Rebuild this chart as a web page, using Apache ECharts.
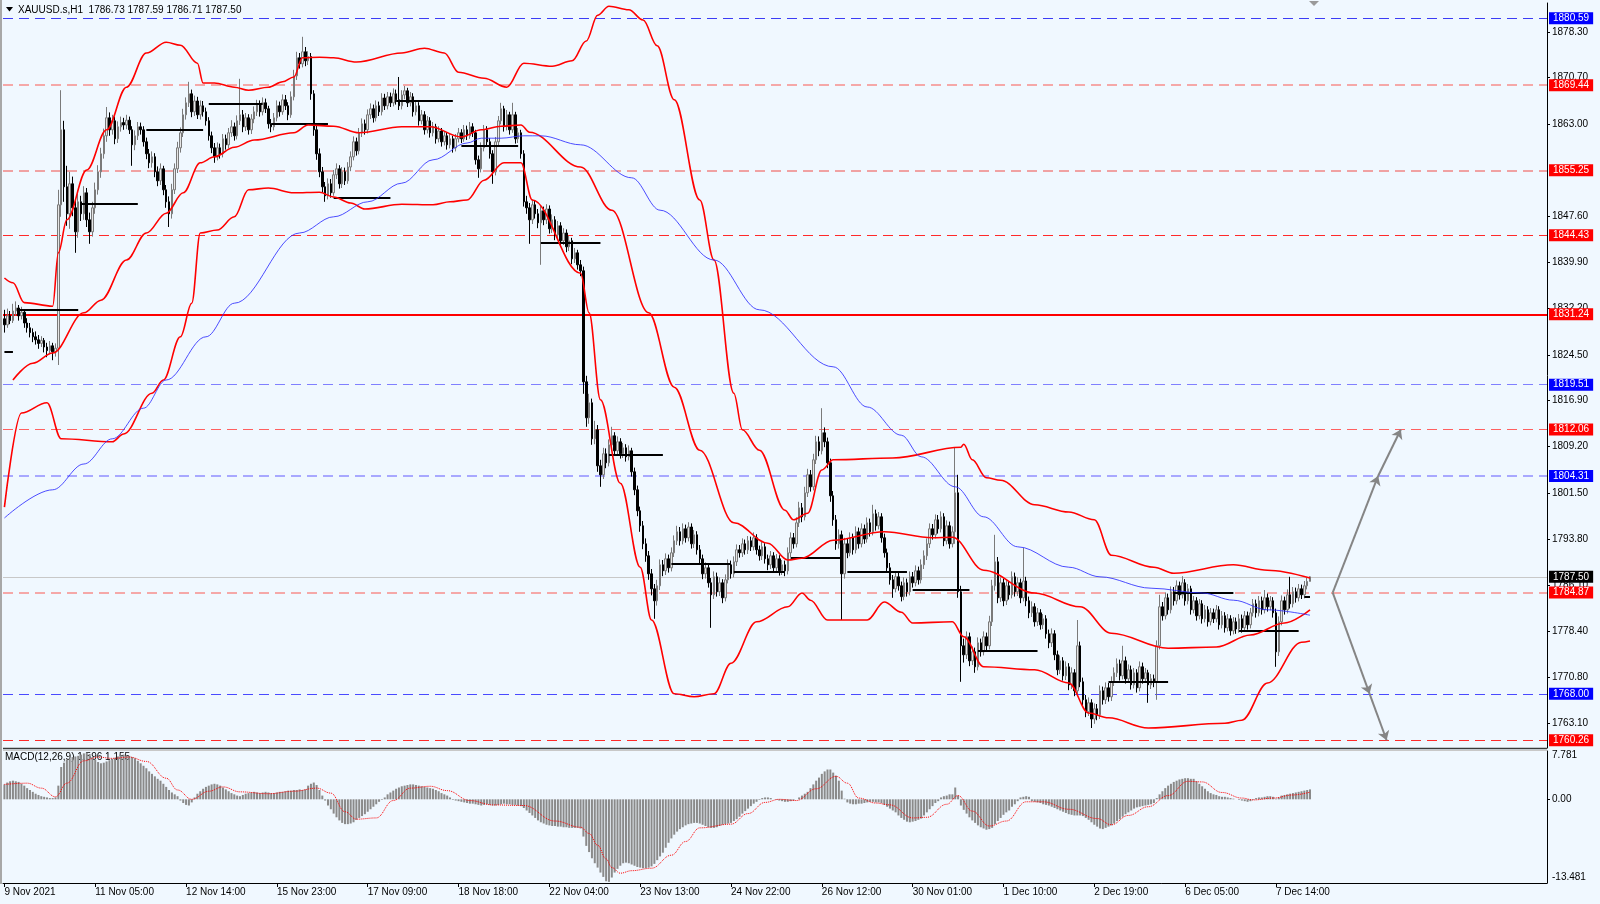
<!DOCTYPE html>
<html><head><meta charset="utf-8">
<script src="https://cdn.jsdelivr.net/npm/echarts@6/dist/echarts.min.js"></script>
<style>html,body{margin:0;padding:0;background:#F0F8FF;}#c{width:1600px;height:904px;}</style>
</head><body><div id="c"></div>
<script>
// ---------- data ----------
const tickLabels = ['9 Nov 2021','11 Nov 05:00','12 Nov 14:00','15 Nov 23:00','17 Nov 09:00','18 Nov 18:00','22 Nov 04:00','23 Nov 13:00','24 Nov 22:00','26 Nov 12:00','30 Nov 01:00','1 Dec 10:00','2 Dec 19:00','6 Dec 05:00','7 Dec 14:00'];
const priceTicks = [1878.30,1870.70,1863.00,1847.60,1839.90,1832.20,1824.50,1816.90,1809.20,1801.50,1793.80,1786.10,1778.40,1770.80,1763.10];
const macdTickTexts = ['7.781','0.00','-13.481'];
const header = 'XAUUSD.s,H1  1786.73 1787.59 1786.71 1787.50';
const macdHeader = 'MACD(12,26,9) 1.596 1.155';

const opens = [
1830.5,1829.5,1831.0,1830.2,1831.8,1832.3,1831.0,1831.6,1829.8,1829.0,
1828.2,1827.5,1827.0,1826.4,1826.9,1825.8,1825.2,1826.0,1825.0,1825.6,
1849.5,1862.0,1852.5,1848.0,1853.0,1849.0,1845.0,1850.0,1848.0,1851.5,
1847.0,1845.0,1849.0,1852.0,1855.0,1858.0,1861.0,1864.0,1862.0,1863.5,
1860.5,1862.5,1863.2,1862.8,1863.6,1862.0,1859.5,1861.0,1862.5,1862.0,
1860.0,1858.0,1856.5,1857.5,1855.0,1853.5,1855.5,1852.0,1850.0,1848.0,
1852.0,1855.5,1859.0,1861.5,1864.5,1866.5,1868.0,1865.0,1866.8,1864.5,
1866.0,1865.0,1863.5,1861.0,1859.0,1857.5,1859.0,1858.0,1860.5,1859.5,
1861.5,1862.5,1861.0,1863.5,1864.5,1862.5,1864.0,1862.0,1863.8,1865.0,
1866.2,1865.0,1866.5,1865.5,1863.0,1862.5,1864.0,1866.0,1865.0,1867.0,
1866.0,1864.5,1867.5,1871.0,1874.0,1873.0,1875.0,1873.5,1874.2,1868.0,
1862.0,1858.0,1855.0,1852.5,1851.0,1853.0,1851.5,1854.5,1855.5,1853.0,
1855.0,1853.5,1855.8,1857.5,1860.0,1858.5,1861.5,1863.0,1862.0,1864.5,
1865.5,1864.0,1866.0,1865.0,1867.3,1866.0,1867.5,1866.5,1868.0,1867.0,
1866.0,1867.8,1868.5,1866.5,1867.5,1865.0,1866.0,1863.5,1864.5,1862.0,
1863.5,1861.5,1862.5,1860.5,1861.8,1860.0,1861.0,1859.5,1860.5,1859.0,
1860.5,1861.5,1860.5,1862.0,1861.0,1862.5,1861.5,1857.0,1855.5,1859.0,
1862.0,1860.0,1858.0,1855.0,1860.0,1863.5,1865.5,1862.5,1864.5,1862.0,
1864.5,1860.5,1861.5,1858.0,1850.0,1849.0,1847.0,1849.5,1848.0,1846.5,
1848.5,1847.0,1848.8,1845.5,1847.0,1844.5,1846.0,1843.5,1844.8,1842.5,
1843.5,1840.5,1841.5,1839.5,1838.5,1820.0,1814.0,1816.5,1810.5,1812.0,
1806.0,1804.5,1808.0,1806.5,1809.5,1811.0,1808.5,1810.0,1808.0,1809.0,
1807.5,1808.5,1805.0,1802.0,1798.5,1796.0,1793.0,1791.0,1788.0,1785.5,
1783.5,1786.0,1789.5,1788.5,1790.5,1789.0,1791.5,1793.5,1795.0,1793.5,
1795.5,1794.0,1795.8,1793.0,1794.5,1792.0,1790.5,1788.0,1789.0,1786.5,
1784.5,1787.5,1785.0,1786.5,1784.0,1787.0,1789.5,1788.0,1790.0,1792.0,
1791.5,1793.0,1792.0,1793.5,1792.5,1794.0,1792.0,1791.0,1792.5,1790.5,
1789.5,1791.0,1789.0,1790.5,1788.5,1789.5,1788.5,1791.5,1794.0,1793.0,
1796.5,1799.0,1797.5,1801.5,1804.5,1802.5,1807.0,1810.0,1808.5,1811.5,
1810.0,1806.5,1801.0,1797.0,1793.0,1794.5,1788.0,1793.0,1791.5,1794.0,
1792.0,1795.0,1793.0,1795.5,1793.8,1796.5,1795.0,1798.0,1796.0,1797.5,
1794.0,1791.5,1789.0,1787.0,1785.5,1787.5,1786.0,1784.2,1786.5,1785.0,
1787.5,1786.5,1788.5,1787.0,1789.5,1791.0,1793.0,1795.5,1794.5,1797.0,
1795.5,1797.5,1793.5,1796.0,1793.0,1795.0,1801.5,1785.0,1776.0,1774.5,
1777.5,1773.5,1775.0,1772.5,1776.5,1775.0,1777.5,1776.0,1780.0,1786.0,
1790.0,1784.0,1786.5,1783.5,1786.0,1784.5,1787.5,1785.0,1786.5,1784.0,
1786.8,1783.5,1781.5,1782.5,1780.0,1781.5,1779.5,1780.5,1778.0,1776.5,
1778.0,1774.5,1772.0,1773.5,1771.0,1772.5,1769.5,1771.5,1768.5,1776.0,
1770.0,1767.0,1765.0,1766.5,1763.8,1765.5,1764.5,1768.5,1767.0,1769.0,
1767.5,1770.0,1771.5,1773.0,1771.0,1773.5,1770.5,1772.0,1769.5,1771.5,
1769.0,1772.5,1770.5,1771.5,1769.5,1770.5,1770.0,1776.0,1782.5,1781.0,
1784.0,1782.0,1785.0,1783.5,1786.0,1784.5,1786.5,1783.5,1785.5,1782.0,
1783.5,1781.0,1783.0,1780.5,1782.0,1780.0,1781.5,1780.5,1782.0,1779.5,
1781.0,1779.0,1780.5,1778.5,1780.0,1778.8,1780.5,1779.0,1781.0,1779.5,
1781.5,1783.0,1781.5,1783.5,1782.0,1784.0,1782.5,1783.5,1781.5,1775.0,
1780.0,1783.5,1782.0,1784.5,1783.0,1785.0,1784.0,1785.5,1784.5,1786.0,1786.73];

const highs = [
1832.0,1832.2,1831.8,1833.0,1833.4,1832.8,1832.5,1832.0,1830.6,1829.8,
1828.9,1828.4,1827.8,1827.6,1827.3,1826.5,1826.8,1826.5,1826.4,1852.0,
1868.6,1863.5,1856.0,1855.0,1854.2,1850.2,1851.3,1851.0,1852.6,1852.3,
1848.2,1850.0,1853.2,1856.1,1859.0,1862.2,1865.8,1864.9,1864.5,1864.2,
1863.4,1864.2,1864.0,1864.5,1864.2,1862.6,1861.9,1863.3,1863.2,1862.6,
1860.7,1858.8,1858.4,1858.1,1855.9,1856.4,1856.0,1852.8,1850.9,1853.0,
1856.4,1860.0,1862.4,1865.5,1867.4,1870.0,1868.7,1867.7,1867.5,1866.9,
1866.8,1865.7,1864.1,1861.7,1859.8,1859.9,1859.7,1861.3,1861.2,1862.3,
1863.6,1863.2,1864.4,1870.5,1865.3,1864.8,1864.6,1864.6,1865.9,1867.0,
1866.9,1867.4,1867.2,1866.0,1863.8,1864.8,1866.9,1866.7,1867.9,1867.8,
1866.6,1868.4,1872.0,1875.0,1874.8,1877.5,1875.8,1875.1,1874.8,1868.6,
1862.8,1858.9,1855.8,1853.3,1853.9,1853.8,1855.3,1856.4,1856.1,1855.8,
1855.7,1856.6,1858.4,1860.9,1860.7,1862.3,1863.9,1863.7,1865.4,1866.4,
1866.2,1866.9,1866.7,1868.1,1868.0,1868.3,1868.2,1868.9,1868.7,1870.8,
1868.6,1869.3,1869.0,1868.3,1868.1,1866.8,1866.6,1865.3,1865.1,1864.3,
1864.1,1863.3,1863.0,1862.6,1862.3,1861.8,1861.6,1861.3,1861.0,1861.3,
1862.3,1862.1,1862.8,1862.7,1863.3,1863.1,1862.0,1857.7,1859.9,1862.8,
1862.6,1860.6,1858.6,1860.8,1864.3,1866.5,1866.0,1865.3,1865.0,1866.5,
1865.0,1862.3,1862.0,1858.6,1851.0,1849.8,1850.4,1850.2,1848.8,1849.3,
1849.2,1849.6,1849.4,1847.9,1847.6,1846.8,1846.6,1845.6,1845.4,1844.3,
1844.0,1842.3,1842.0,1840.3,1839.2,1821.0,1818.0,1817.2,1813.5,1812.8,
1807.0,1809.0,1808.9,1810.4,1812.5,1811.6,1810.9,1810.6,1809.8,1809.6,
1809.4,1809.0,1805.7,1802.7,1799.2,1796.8,1793.9,1791.8,1788.8,1786.3,
1787.0,1790.4,1790.3,1791.4,1791.2,1792.4,1794.4,1796.0,1795.8,1796.4,
1796.2,1796.6,1796.4,1795.3,1795.1,1792.8,1791.2,1789.9,1789.7,1787.3,
1788.4,1788.2,1787.4,1787.1,1787.9,1790.4,1790.2,1790.9,1792.9,1792.8,
1793.9,1793.7,1794.3,1794.2,1794.9,1794.6,1792.7,1793.3,1793.1,1791.2,
1791.8,1791.6,1791.3,1791.1,1790.3,1790.2,1792.4,1794.9,1794.8,1797.4,
1800.0,1799.8,1802.5,1805.5,1805.3,1808.0,1811.0,1810.9,1815.6,1812.4,
1810.7,1807.2,1801.8,1797.8,1795.4,1795.2,1794.0,1793.8,1794.9,1794.7,
1795.9,1795.7,1796.4,1796.2,1797.4,1797.2,1799.5,1798.7,1798.3,1798.1,
1794.7,1792.2,1789.8,1787.8,1788.4,1788.2,1786.7,1787.4,1787.2,1788.4,
1788.3,1789.4,1789.2,1790.4,1791.9,1793.9,1796.4,1796.3,1797.9,1797.8,
1798.4,1798.1,1796.9,1796.7,1795.9,1809.0,1804.5,1786.0,1777.2,1778.4,
1778.2,1775.9,1775.7,1777.4,1777.2,1778.4,1778.2,1781.0,1787.0,1794.5,
1790.8,1787.4,1787.2,1786.9,1786.8,1788.4,1788.2,1787.4,1787.2,1792.3,
1787.5,1784.2,1783.4,1783.1,1782.3,1782.1,1781.3,1781.1,1778.7,1778.9,
1778.6,1775.2,1774.4,1774.1,1773.4,1773.1,1772.4,1772.1,1780.3,1776.7,
1770.7,1767.8,1767.4,1767.1,1766.4,1766.3,1769.4,1769.2,1769.9,1769.8,
1770.9,1772.4,1773.9,1773.7,1776.0,1774.2,1772.9,1772.7,1772.3,1772.1,
1773.4,1773.2,1772.3,1772.0,1771.3,1771.2,1776.9,1784.5,1783.3,1784.9,
1784.7,1785.9,1785.8,1786.9,1786.7,1787.6,1787.1,1786.3,1786.0,1784.3,
1784.1,1783.8,1783.6,1782.8,1782.6,1782.3,1782.2,1782.8,1782.6,1781.8,
1781.6,1781.3,1781.1,1780.8,1780.7,1781.3,1781.2,1781.8,1781.7,1782.3,
1783.8,1783.7,1784.3,1784.2,1785.3,1784.7,1784.3,1784.1,1782.2,1780.9,
1784.4,1784.2,1785.4,1787.5,1785.8,1785.7,1786.3,1786.2,1786.8,1787.3,1787.59];

const lows = [
1828.2,1829.0,1829.6,1829.8,1831.0,1830.2,1830.4,1829.0,1828.2,1827.4,
1826.6,1826.2,1825.5,1825.8,1824.9,1824.1,1824.6,1823.6,1824.2,1822.8,
1847.5,1850.0,1846.0,1845.5,1847.6,1841.5,1844.0,1846.8,1847.0,1845.8,
1843.0,1844.2,1848.0,1851.2,1854.0,1857.2,1860.0,1861.0,1861.2,1859.6,
1859.8,1861.7,1862.0,1862.1,1861.3,1856.0,1858.6,1860.3,1861.2,1859.2,
1857.1,1855.6,1855.7,1854.1,1852.6,1852.8,1851.1,1849.0,1845.8,1847.2,
1851.3,1854.8,1858.2,1860.8,1863.7,1865.8,1864.1,1864.3,1863.8,1863.7,
1864.2,1862.7,1860.2,1858.1,1856.5,1856.9,1857.2,1857.4,1858.7,1858.9,
1860.8,1860.2,1860.4,1862.8,1861.6,1861.8,1861.2,1861.3,1863.1,1864.3,
1864.2,1864.4,1864.8,1862.2,1861.6,1861.9,1863.4,1864.2,1864.5,1865.3,
1863.6,1864.0,1866.9,1870.3,1872.2,1872.4,1872.6,1872.8,1867.0,1861.0,
1857.0,1854.1,1851.6,1850.0,1850.4,1850.7,1851.0,1853.8,1852.2,1852.3,
1852.8,1853.0,1855.1,1856.9,1857.7,1857.9,1860.8,1861.2,1861.4,1863.8,
1863.2,1863.4,1864.3,1864.4,1865.3,1865.4,1865.8,1865.9,1866.2,1865.3,
1865.4,1867.1,1865.8,1865.9,1864.2,1864.4,1862.7,1862.9,1861.2,1861.4,
1860.7,1860.9,1859.7,1859.9,1859.2,1859.4,1858.7,1858.9,1858.2,1858.4,
1859.9,1859.8,1860.0,1860.3,1860.5,1860.8,1856.2,1854.0,1854.9,1858.4,
1859.2,1857.2,1853.0,1854.4,1859.4,1862.9,1861.7,1861.9,1861.2,1861.5,
1859.7,1859.8,1857.2,1849.2,1848.0,1843.0,1846.3,1847.2,1845.6,1839.5,
1846.1,1846.3,1844.7,1844.8,1843.6,1843.8,1842.6,1842.8,1841.6,1841.8,
1839.6,1839.8,1838.7,1837.6,1818.0,1812.5,1813.0,1809.5,1809.6,1805.0,
1802.5,1803.8,1805.6,1805.9,1808.8,1807.7,1807.9,1807.2,1807.3,1806.7,
1806.9,1804.2,1801.1,1797.6,1795.0,1792.1,1790.0,1787.0,1784.4,1780.5,
1782.7,1785.3,1787.6,1787.8,1788.2,1788.4,1790.8,1792.8,1792.7,1792.9,
1793.2,1793.4,1792.2,1792.3,1791.2,1789.7,1787.1,1787.2,1785.7,1779.0,
1783.8,1784.2,1784.3,1783.1,1783.4,1786.4,1787.2,1787.4,1789.3,1790.7,
1790.8,1791.2,1791.3,1791.8,1791.9,1791.2,1790.2,1790.3,1789.7,1788.6,
1788.8,1788.2,1788.3,1787.7,1787.8,1787.6,1787.9,1790.8,1792.2,1792.4,
1795.8,1796.6,1796.9,1800.8,1801.7,1801.9,1806.3,1807.6,1807.9,1809.1,
1805.6,1800.0,1796.0,1792.0,1792.2,1780.3,1787.2,1790.6,1790.9,1791.2,
1791.4,1792.2,1792.4,1793.0,1793.2,1794.2,1794.4,1795.2,1795.4,1793.2,
1790.7,1788.2,1786.2,1784.0,1784.9,1785.2,1783.4,1783.6,1784.2,1784.4,
1785.7,1785.9,1786.2,1786.4,1788.8,1790.3,1792.3,1793.7,1793.9,1794.7,
1794.9,1792.6,1792.9,1792.2,1792.4,1793.0,1784.0,1770.0,1773.2,1773.8,
1772.6,1772.8,1771.5,1771.9,1774.2,1774.4,1775.2,1775.4,1779.3,1785.2,
1783.1,1783.3,1782.6,1782.8,1783.7,1783.9,1784.2,1784.3,1783.1,1783.4,
1782.6,1780.6,1780.8,1779.2,1779.3,1778.7,1778.8,1777.2,1775.6,1775.8,
1773.6,1771.1,1771.3,1770.2,1770.3,1768.6,1768.8,1767.6,1767.9,1769.1,
1766.1,1764.1,1764.3,1762.3,1763.0,1763.6,1763.8,1766.2,1766.3,1766.7,
1766.8,1769.3,1770.8,1770.2,1770.4,1769.7,1769.8,1768.7,1768.9,1768.2,
1768.4,1769.7,1769.8,1766.5,1768.8,1769.1,1767.0,1775.4,1780.2,1780.4,
1781.2,1781.4,1782.7,1782.9,1783.7,1783.9,1782.7,1782.9,1781.2,1781.4,
1780.2,1780.4,1779.7,1779.9,1779.2,1779.4,1779.8,1779.9,1778.7,1778.9,
1778.2,1778.4,1777.7,1777.9,1778.0,1778.2,1778.2,1778.4,1778.7,1778.9,
1780.9,1780.7,1780.9,1781.2,1781.4,1781.7,1781.9,1780.7,1772.5,1774.3,
1779.4,1781.2,1781.4,1782.2,1782.4,1783.2,1783.4,1783.8,1783.9,1785.4,1786.71];

const closes = [
1829.5,1831.0,1830.2,1831.8,1832.3,1831.0,1831.6,1829.8,1829.0,1828.2,
1827.5,1827.0,1826.4,1826.9,1825.8,1825.2,1826.0,1825.0,1825.6,1849.5,
1862.0,1852.5,1848.0,1853.0,1849.0,1845.0,1850.0,1848.0,1851.5,1847.0,
1845.0,1849.0,1852.0,1855.0,1858.0,1861.0,1864.0,1862.0,1863.5,1860.5,
1862.5,1863.2,1862.8,1863.6,1862.0,1859.5,1861.0,1862.5,1862.0,1860.0,
1858.0,1856.5,1857.5,1855.0,1853.5,1855.5,1852.0,1850.0,1848.0,1852.0,
1855.5,1859.0,1861.5,1864.5,1866.5,1868.0,1865.0,1866.8,1864.5,1866.0,
1865.0,1863.5,1861.0,1859.0,1857.5,1859.0,1858.0,1860.5,1859.5,1861.5,
1862.5,1861.0,1863.5,1864.5,1862.5,1864.0,1862.0,1863.8,1865.0,1866.2,
1865.0,1866.5,1865.5,1863.0,1862.5,1864.0,1866.0,1865.0,1867.0,1866.0,
1864.5,1867.5,1871.0,1874.0,1873.0,1875.0,1873.5,1874.2,1868.0,1862.0,
1858.0,1855.0,1852.5,1851.0,1853.0,1851.5,1854.5,1855.5,1853.0,1855.0,
1853.5,1855.8,1857.5,1860.0,1858.5,1861.5,1863.0,1862.0,1864.5,1865.5,
1864.0,1866.0,1865.0,1867.3,1866.0,1867.5,1866.5,1868.0,1867.0,1866.0,
1867.8,1868.5,1866.5,1867.5,1865.0,1866.0,1863.5,1864.5,1862.0,1863.5,
1861.5,1862.5,1860.5,1861.8,1860.0,1861.0,1859.5,1860.5,1859.0,1860.5,
1861.5,1860.5,1862.0,1861.0,1862.5,1861.5,1857.0,1855.5,1859.0,1862.0,
1860.0,1858.0,1855.0,1860.0,1863.5,1865.5,1862.5,1864.5,1862.0,1864.5,
1860.5,1861.5,1858.0,1850.0,1849.0,1847.0,1849.5,1848.0,1846.5,1848.5,
1847.0,1848.8,1845.5,1847.0,1844.5,1846.0,1843.5,1844.8,1842.5,1843.5,
1840.5,1841.5,1839.5,1838.5,1820.0,1814.0,1816.5,1810.5,1812.0,1806.0,
1804.5,1808.0,1806.5,1809.5,1811.0,1808.5,1810.0,1808.0,1809.0,1807.5,
1808.5,1805.0,1802.0,1798.5,1796.0,1793.0,1791.0,1788.0,1785.5,1783.5,
1786.0,1789.5,1788.5,1790.5,1789.0,1791.5,1793.5,1795.0,1793.5,1795.5,
1794.0,1795.8,1793.0,1794.5,1792.0,1790.5,1788.0,1789.0,1786.5,1784.5,
1787.5,1785.0,1786.5,1784.0,1787.0,1789.5,1788.0,1790.0,1792.0,1791.5,
1793.0,1792.0,1793.5,1792.5,1794.0,1792.0,1791.0,1792.5,1790.5,1789.5,
1791.0,1789.0,1790.5,1788.5,1789.5,1788.5,1791.5,1794.0,1793.0,1796.5,
1799.0,1797.5,1801.5,1804.5,1802.5,1807.0,1810.0,1808.5,1811.5,1810.0,
1806.5,1801.0,1797.0,1793.0,1794.5,1788.0,1793.0,1791.5,1794.0,1792.0,
1795.0,1793.0,1795.5,1793.8,1796.5,1795.0,1798.0,1796.0,1797.5,1794.0,
1791.5,1789.0,1787.0,1785.5,1787.5,1786.0,1784.2,1786.5,1785.0,1787.5,
1786.5,1788.5,1787.0,1789.5,1791.0,1793.0,1795.5,1794.5,1797.0,1795.5,
1797.5,1793.5,1796.0,1793.0,1795.0,1801.5,1785.0,1776.0,1774.5,1777.5,
1773.5,1775.0,1772.5,1776.5,1775.0,1777.5,1776.0,1780.0,1786.0,1790.0,
1784.0,1786.5,1783.5,1786.0,1784.5,1787.5,1785.0,1786.5,1784.0,1786.8,
1783.5,1781.5,1782.5,1780.0,1781.5,1779.5,1780.5,1778.0,1776.5,1778.0,
1774.5,1772.0,1773.5,1771.0,1772.5,1769.5,1771.5,1768.5,1776.0,1770.0,
1767.0,1765.0,1766.5,1763.8,1765.5,1764.5,1768.5,1767.0,1769.0,1767.5,
1770.0,1771.5,1773.0,1771.0,1773.5,1770.5,1772.0,1769.5,1771.5,1769.0,
1772.5,1770.5,1771.5,1769.5,1770.5,1770.0,1776.0,1782.5,1781.0,1784.0,
1782.0,1785.0,1783.5,1786.0,1784.5,1786.5,1783.5,1785.5,1782.0,1783.5,
1781.0,1783.0,1780.5,1782.0,1780.0,1781.5,1780.5,1782.0,1779.5,1781.0,
1779.0,1780.5,1778.5,1780.0,1778.8,1780.5,1779.0,1781.0,1779.5,1781.5,
1783.0,1781.5,1783.5,1782.0,1784.0,1782.5,1783.5,1781.5,1775.0,1780.0,
1783.5,1782.0,1784.5,1783.0,1785.0,1784.0,1785.5,1784.5,1786.0,1786.73,1787.50];

const macdHist = [
2.4,2.7,2.9,3.0,2.9,2.8,2.5,2.2,1.8,1.5,
1.2,0.9,0.7,0.5,0.4,0.3,0.2,0.2,0.3,2.2,
5.2,5.9,6.4,6.6,6.8,6.9,7.0,7.2,7.4,7.5,
7.3,6.8,6.4,6.0,5.8,5.9,6.1,6.3,6.5,6.7,
6.9,7.1,7.2,7.1,7.0,6.8,6.6,6.2,5.8,5.4,
5.0,4.5,4.1,3.7,3.3,3.0,2.5,2.0,1.5,1.1,
0.8,0.5,-0.2,-0.6,-0.9,-1.0,-0.5,0.3,0.9,1.3,
1.7,2.0,2.2,2.4,2.5,2.4,2.2,1.9,1.6,1.3,
1.0,0.8,0.6,0.5,0.7,0.9,1.0,1.1,1.2,1.1,
1.0,1.1,1.2,1.1,1.0,1.0,1.1,1.2,1.2,1.3,
1.4,1.4,1.5,1.5,1.6,1.5,1.6,2.2,2.5,2.7,
2.3,1.5,0.6,-0.2,-1.0,-1.6,-2.3,-2.9,-3.4,-3.8,
-4.0,-4.0,-3.9,-3.7,-3.3,-3.0,-2.7,-2.4,-2.0,-1.6,
-1.2,-0.8,-0.4,-0.1,0.3,0.8,1.1,1.4,1.7,1.9,
2.1,2.2,2.3,2.4,2.4,2.3,2.2,2.1,2.0,1.9,
1.8,1.7,1.5,1.3,1.0,0.8,0.6,0.3,-0.1,-0.2,
-0.3,-0.4,-0.5,-0.6,-0.7,-0.7,-0.8,-0.9,-1.0,-0.9,
-0.8,-0.9,-1.0,-1.0,-0.9,-0.8,-0.7,-0.8,-0.8,-0.9,
-0.9,-1.0,-1.1,-1.4,-1.8,-2.2,-2.6,-3.0,-3.4,-3.7,
-3.9,-4.1,-4.2,-4.3,-4.3,-4.4,-4.4,-4.5,-4.5,-4.6,
-4.6,-4.6,-4.6,-4.7,-6.0,-7.5,-8.5,-9.5,-10.3,-11.0,
-11.8,-12.5,-13.2,-13.3,-12.6,-11.8,-11.2,-10.7,-10.3,-10.2,
-10.3,-10.5,-10.7,-10.9,-11.0,-11.1,-11.1,-11.0,-10.8,-10.4,
-9.8,-9.2,-8.6,-7.8,-7.0,-6.3,-5.7,-5.2,-4.8,-4.5,
-4.2,-4.0,-3.9,-3.8,-3.8,-3.9,-4.1,-4.3,-4.5,-4.6,
-4.6,-4.5,-4.3,-4.1,-4.0,-3.9,-3.8,-3.5,-3.2,-2.8,
-2.3,-1.9,-1.5,-1.1,-0.7,-0.4,-0.1,0.2,0.3,0.3,
0.2,0.0,-0.1,-0.2,-0.3,-0.4,-0.4,-0.3,-0.2,0.0,
0.3,0.6,0.9,1.2,1.8,2.4,3.0,3.5,4.1,4.5,
4.8,4.8,4.3,3.8,3.0,1.4,0.1,-0.5,-0.7,-0.8,
-0.8,-0.7,-0.7,-0.6,-0.5,-0.4,-0.4,-0.5,-0.5,-0.6,
-0.9,-1.2,-1.5,-1.8,-2.1,-2.6,-3.0,-3.3,-3.6,-3.7,
-3.6,-3.5,-3.3,-3.1,-2.6,-2.1,-1.6,-1.1,-0.6,-0.3,
0.3,0.5,0.6,0.8,0.8,1.9,0.6,-1.0,-1.7,-2.3,
-2.9,-3.4,-3.8,-4.2,-4.5,-4.7,-4.9,-4.8,-4.6,-4.0,
-3.5,-3.0,-2.5,-2.1,-1.8,-1.2,-0.8,-0.3,0.3,0.4,
0.5,0.4,-0.3,-0.4,-0.5,-0.6,-0.8,-0.9,-1.0,-1.2,
-1.4,-1.6,-1.8,-2.0,-2.2,-2.4,-2.5,-2.6,-2.6,-2.6,
-2.7,-3.0,-3.3,-3.7,-4.1,-4.4,-4.7,-4.8,-4.6,-4.4,
-4.2,-3.9,-3.5,-3.2,-2.8,-2.4,-2.1,-1.8,-1.5,-1.3,
-1.2,-1.1,-1.0,-0.9,-0.8,-0.6,0.2,0.8,1.3,1.8,
2.2,2.5,2.8,3.0,3.2,3.3,3.4,3.4,3.3,3.3,
2.9,2.5,2.1,1.7,1.3,1.0,0.8,0.7,0.5,0.4,
0.4,0.3,0.2,0.1,0.0,-0.1,-0.2,-0.3,-0.4,-0.3,
-0.1,0.2,0.3,0.3,0.4,0.5,0.5,0.4,0.1,0.3,
0.6,0.7,0.8,0.9,1.0,1.1,1.2,1.3,1.4,1.5,1.596];

const macdSignal = [[0,2.4],[8,2.6],[13,1.8],[18,0.4],[22,2.6],[28,6.2],[33,6.8],[38,6.6],[44,6.8],[50,6.1],[57,3.4],[61,1.5],[66,0.0],[72,1.3],[77,2.0],[83,1.2],[93,0.9],[102,1.3],[110,1.8],[115,1.0],[120,-2.0],[124,-3.2],[131,-3.0],[137,-0.2],[143,1.8],[150,2.1],[156,1.4],[164,-0.2],[172,-0.9],[183,-1.0],[194,-3.5],[203,-4.5],[206,-5.5],[209,-7.4],[212,-9.6],[214,-11.0],[217,-11.9],[221,-11.5],[228,-11.1],[235,-9.0],[240,-6.8],[245,-4.6],[256,-4.0],[262,-2.3],[268,-0.5],[273,0.0],[279,-0.2],[286,1.7],[293,3.7],[297,2.6],[301,0.2],[307,-0.6],[312,-0.9],[320,-3.0],[325,-2.9],[332,-0.8],[336,0.6],[341,-1.9],[347,-4.3],[353,-3.5],[360,-0.4],[366,-0.4],[375,-1.6],[385,-3.1],[390,-4.1],[396,-2.6],[403,-1.2],[410,0.6],[417,2.9],[422,2.8],[429,1.1],[436,0.2],[440,-0.1],[447,0.2],[454,0.7],[460,1.155]];

const bbUpper = [[0,1837.3],[3,1836.5],[7,1833.2],[17,1832.6],[19,1841.5],[22,1847.0],[29,1855.3],[36,1862.0],[43,1869.1],[50,1874.8],[57,1876.6],[62,1876.1],[68,1873.1],[70,1869.8],[74,1869.8],[81,1869.1],[86,1868.6],[93,1869.1],[98,1870.0],[102,1870.8],[105,1874.0],[111,1874.1],[116,1874.0],[124,1873.3],[140,1874.8],[148,1875.6],[155,1874.8],[160,1871.6],[169,1870.6],[177,1869.1],[183,1873.1],[193,1872.6],[200,1873.5],[205,1876.8],[209,1881.1],[213,1882.6],[220,1882.0],[225,1880.3],[230,1876.0],[236,1867.0],[245,1850.3],[250,1840.3],[257,1818.1],[260,1812.0],[266,1808.6],[275,1798.6],[278,1797.0],[283,1798.1],[288,1805.3],[292,1807.0],[313,1807.3],[337,1809.1],[338,1809.6],[341,1807.0],[346,1804.0],[351,1803.6],[363,1799.5],[375,1798.3],[384,1797.0],[390,1791.1],[405,1789.1],[412,1788.1],[433,1789.5],[445,1788.6],[460,1787.3]];
const bbMiddle = [[3,1820.3],[10,1823.1],[17,1824.8],[28,1831.5],[34,1833.6],[43,1840.3],[50,1844.8],[57,1848.1],[63,1851.5],[69,1856.5],[74,1857.5],[81,1859.1],[88,1860.3],[102,1861.5],[107,1862.8],[116,1862.6],[125,1861.5],[140,1862.5],[150,1862.5],[161,1860.8],[168,1862.0],[175,1862.6],[182,1862.8],[185,1861.6],[203,1855.8],[214,1848.6],[227,1831.5],[236,1819.1],[245,1808.6],[257,1796.5],[269,1793.1],[276,1790.3],[281,1790.6],[292,1793.6],[310,1795.0],[327,1794.0],[334,1794.1],[345,1788.6],[363,1784.8],[379,1782.5],[390,1778.1],[410,1775.6],[427,1775.8],[439,1777.8],[451,1779.8],[460,1782.0]];
const bbLower = [[0,1799.1],[6,1814.8],[15,1816.5],[20,1810.5],[38,1810.0],[42,1811.3],[52,1818.1],[56,1820.3],[62,1827.5],[66,1833.1],[69,1844.8],[75,1845.3],[81,1847.5],[86,1852.0],[93,1852.3],[102,1851.5],[111,1851.6],[116,1850.8],[122,1849.8],[127,1848.8],[140,1849.6],[151,1849.5],[157,1850.0],[163,1850.3],[169,1853.6],[176,1856.5],[182,1856.5],[186,1850.3],[203,1838.1],[206,1831.5],[210,1817.0],[217,1803.1],[224,1789.1],[228,1780.3],[236,1768.0],[243,1767.5],[250,1768.0],[256,1773.1],[265,1780.0],[276,1782.5],[281,1784.8],[284,1783.6],[290,1780.3],[304,1780.3],[310,1783.3],[316,1781.6],[320,1779.8],[334,1780.0],[338,1777.5],[345,1772.5],[363,1772.0],[375,1769.8],[382,1764.8],[389,1764.0],[403,1762.3],[430,1763.1],[436,1763.6],[445,1769.8],[457,1776.6],[460,1776.8]];
const maBlue = [[0,1797.3],[17,1802.0],[28,1806.3],[38,1810.5],[49,1815.6],[57,1820.3],[71,1827.5],[81,1833.1],[104,1844.8],[116,1847.5],[128,1850.0],[140,1853.1],[151,1857.0],[163,1859.8],[168,1860.6],[175,1860.6],[183,1861.0],[189,1861.0],[203,1859.5],[221,1854.0],[231,1848.6],[250,1840.3],[266,1832.0],[292,1822.5],[304,1815.8],[316,1811.1],[323,1807.5],[335,1802.5],[345,1797.5],[357,1792.5],[375,1789.1],[386,1787.5],[404,1785.6],[422,1784.8],[433,1783.6],[445,1782.0],[460,1781.1]];

// daily horizontal segments: [fromBar, toBar, price]
const daySegments = [[0,3,1825.0],[5,26,1832.0],[27,47,1849.6],[50,70,1862.0],[72,91,1866.3],[94,114,1863.0],[116,136,1850.6],[138,158,1866.8],[161,181,1859.3],[189,210,1843.2],[213,232,1807.8],[235,256,1789.7],[257,275,1788.3],[277,295,1790.6],[297,318,1788.3],[320,340,1785.3],[343,364,1775.1],[389,410,1770.0],[412,433,1784.8],[435,456,1778.5],[458,460,1784.1]];

const levelValues = [1880.59,1869.44,1855.25,1844.43,1831.24,1819.51,1812.06,1804.31,1787.50,1784.87,1768.00,1760.26];
const arrowUp = [[468,1784.87],[484,1804.31],[492,1812.06]];
const arrowDown = [[468,1784.87],[481,1768.00],[487,1760.26]];

// ---------- build ----------
const FONT = '"Liberation Sans", Arial, sans-serif';
const PLOT_L = 3, PLOT_R = 1547;
const N_CAT = 544;
const cats = Array.from({length: N_CAT}, (_, i) => String(i));
const candleData = closes.map((c, i) => [opens[i], c, Math.min(lows[i], opens[i], c), Math.max(highs[i], opens[i], c)]);
const isTick = (i) => i % 32 === 0 && i / 32 < tickLabels.length;

const levelStyle = [
  {line:'#3C3CF5', box:'#0000FF', w:1, dash:true},
  {line:'#F5A8A8', box:'#FF0000', w:2, dash:true},
  {line:'#F08585', box:'#FF0000', w:1.5, dash:true},
  {line:'#FF2A2A', box:'#FF0000', w:1, dash:true},
  {line:'#FF0000', box:'#FF0000', w:2, dash:false},
  {line:'#8080FF', box:'#0000FF', w:1.2, dash:true},
  {line:'#FF6060', box:'#FF0000', w:1.2, dash:true},
  {line:'#A8A8FF', box:'#0000FF', w:2, dash:true},
  {line:'#C8C8C8', box:'#000000', w:1, dash:false},
  {line:'#F5A8A8', box:'#FF0000', w:2, dash:true},
  {line:'#4A4AFF', box:'#0000FF', w:1.2, dash:true},
  {line:'#FF2A2A', box:'#FF0000', w:1.2, dash:true}
];

const markLineData = levelValues.map((v, k) => ({
  yAxis: v,
  lineStyle: {color: levelStyle[k].line, width: levelStyle[k].w, type: levelStyle[k].dash ? [10, 6] : 'solid'},
  label: {show: true, position: 'end', formatter: v.toFixed(2), color: '#fff', backgroundColor: levelStyle[k].box,
          padding: [1, 4, 0, 4], fontSize: 10, lineHeight: 11, fontFamily: FONT, distance: 2}
}));

function legs(pts) {
  const out = [];
  for (let k = 0; k < pts.length - 1; k++) out.push({coords: [pts[k], pts[k + 1]]});
  return out;
}

const bandLine = (data) => ({
  type: 'line', xAxisIndex: 0, yAxisIndex: 0, data, smooth: 0.35, smoothMonotone: 'x',
  symbol: 'none', lineStyle: {color: '#FF0000', width: 1.6}, z: 4, silent: true
});

const chart = echarts.init(document.getElementById('c'), null, {renderer: 'canvas'});
chart.setOption({
  backgroundColor: '#F0F8FF',
  animation: false,
  grid: [
    {left: PLOT_L, top: 3, width: PLOT_R - PLOT_L, height: 745},
    {left: PLOT_L, top: 751, width: PLOT_R - PLOT_L, height: 132}
  ],
  xAxis: [
    {type: 'category', gridIndex: 0, data: cats, boundaryGap: true,
     axisLine: {show: false, onZero: false}, axisTick: {show: false}, axisLabel: {show: false}, splitLine: {show: false}},
    {type: 'category', gridIndex: 1, data: cats, boundaryGap: true,
     axisLine: {show: true, onZero: false, lineStyle: {color: '#000', width: 1}},
     axisTick: {show: true, alignWithLabel: true, length: 4, interval: (i) => isTick(i), lineStyle: {color: '#000'}},
     axisLabel: {show: true, interval: (i) => isTick(i), formatter: (val, idx) => tickLabels[Math.round(Number(val) / 32)] || '',
                 align: 'left', margin: 4, color: '#000', fontSize: 10, fontFamily: FONT},
     splitLine: {show: false}}
  ],
  yAxis: [
    {type: 'value', gridIndex: 0, position: 'right', min: 1758.967, max: 1883.133, scale: true,
     splitLine: {show: false},
     axisLine: {show: true, onZero: false, lineStyle: {color: '#000', width: 1}},
     axisTick: {show: true, customValues: priceTicks, length: 3, lineStyle: {color: '#000'}},
     axisLabel: {show: true, customValues: priceTicks, formatter: (v) => v.toFixed(2), color: '#000', fontSize: 10, fontFamily: FONT, margin: 5}},
    {type: 'value', gridIndex: 1, position: 'right', min: -13.481, max: 7.781,
     splitLine: {show: false},
     axisLine: {show: true, onZero: false, lineStyle: {color: '#000', width: 1}},
     axisTick: {show: true, customValues: [0], length: 3, lineStyle: {color: '#000'}},
     axisLabel: {show: true, customValues: [7.06, 0, -12.51],
                 formatter: (v) => v > 1 ? macdTickTexts[0] : (v < -1 ? macdTickTexts[2] : macdTickTexts[1]),
                 color: '#000', fontSize: 10, fontFamily: FONT, margin: 5}}
  ],
  series: [
    {type: 'candlestick', name: 'XAUUSD', xAxisIndex: 0, yAxisIndex: 0, data: candleData, barWidth: 2, z: 3, silent: true,
     itemStyle: {color: '#E6E6E6', color0: '#000000', borderColor: '#7A7A7A', borderColor0: '#000000', borderWidth: 1}},
    bandLine(bbUpper), bandLine(bbMiddle), bandLine(bbLower),
    {type: 'line', xAxisIndex: 0, yAxisIndex: 0, data: maBlue, smooth: 0.35, smoothMonotone: 'x', symbol: 'none',
     lineStyle: {color: '#2E2EFF', width: 1, opacity: 0.85}, z: 4, silent: true,
     markLine: {silent: true, symbol: ['none', 'none'], animation: false, z: 1, data: markLineData}},
    {type: 'lines', coordinateSystem: 'cartesian2d', xAxisIndex: 0, yAxisIndex: 0, z: 4, silent: true,
     data: daySegments.map(s => ({coords: [[s[0], s[2]], [s[1], s[2]]]})),
     lineStyle: {color: '#000', width: 2, opacity: 1}},
    {type: 'lines', coordinateSystem: 'cartesian2d', xAxisIndex: 0, yAxisIndex: 0, z: 5, silent: true,
     data: legs(arrowUp).concat(legs(arrowDown)),
     symbol: ['none', 'arrow'], symbolSize: 9,
     lineStyle: {color: '#858585', width: 2, opacity: 1}},
    {type: 'bar', xAxisIndex: 1, yAxisIndex: 1, data: macdHist, barWidth: 2, z: 2, silent: true,
     itemStyle: {color: '#8A8A8A'}},
    {type: 'line', xAxisIndex: 1, yAxisIndex: 1, data: macdSignal, smooth: 0.4, smoothMonotone: 'x', symbol: 'none',
     lineStyle: {color: '#FF0000', width: 1, type: 'dotted'}, z: 3, silent: true}
  ],
  graphic: [
    {type: 'rect', left: 0, top: 0, shape: {width: 2, height: 884}, style: {fill: '#A8A8A8'}, silent: true},
    {type: 'line', shape: {x1: PLOT_L, y1: 748.5, x2: PLOT_R, y2: 748.5}, style: {stroke: '#3A3A3A', lineWidth: 1.5}, silent: true},
    {type: 'line', shape: {x1: PLOT_L, y1: 750.5, x2: PLOT_R, y2: 750.5}, style: {stroke: '#C8C8C8', lineWidth: 1}, silent: true},
    {type: 'polygon', shape: {points: [[6, 7], [13, 7], [9.5, 11.5]]}, style: {fill: '#000'}, silent: true},
    {type: 'text', x: 18, y: 10, style: {text: header, fill: '#000', font: '10px ' + FONT, verticalAlign: 'middle'}, silent: true},
    {type: 'text', x: 5, y: 757, style: {text: macdHeader, fill: '#000', font: '10px ' + FONT, verticalAlign: 'middle'}, silent: true},
    {type: 'polygon', shape: {points: [[1309, 1], [1319, 1], [1314, 6]]}, style: {fill: '#9A9A9A'}, silent: true}
  ]
});
</script></body></html>
